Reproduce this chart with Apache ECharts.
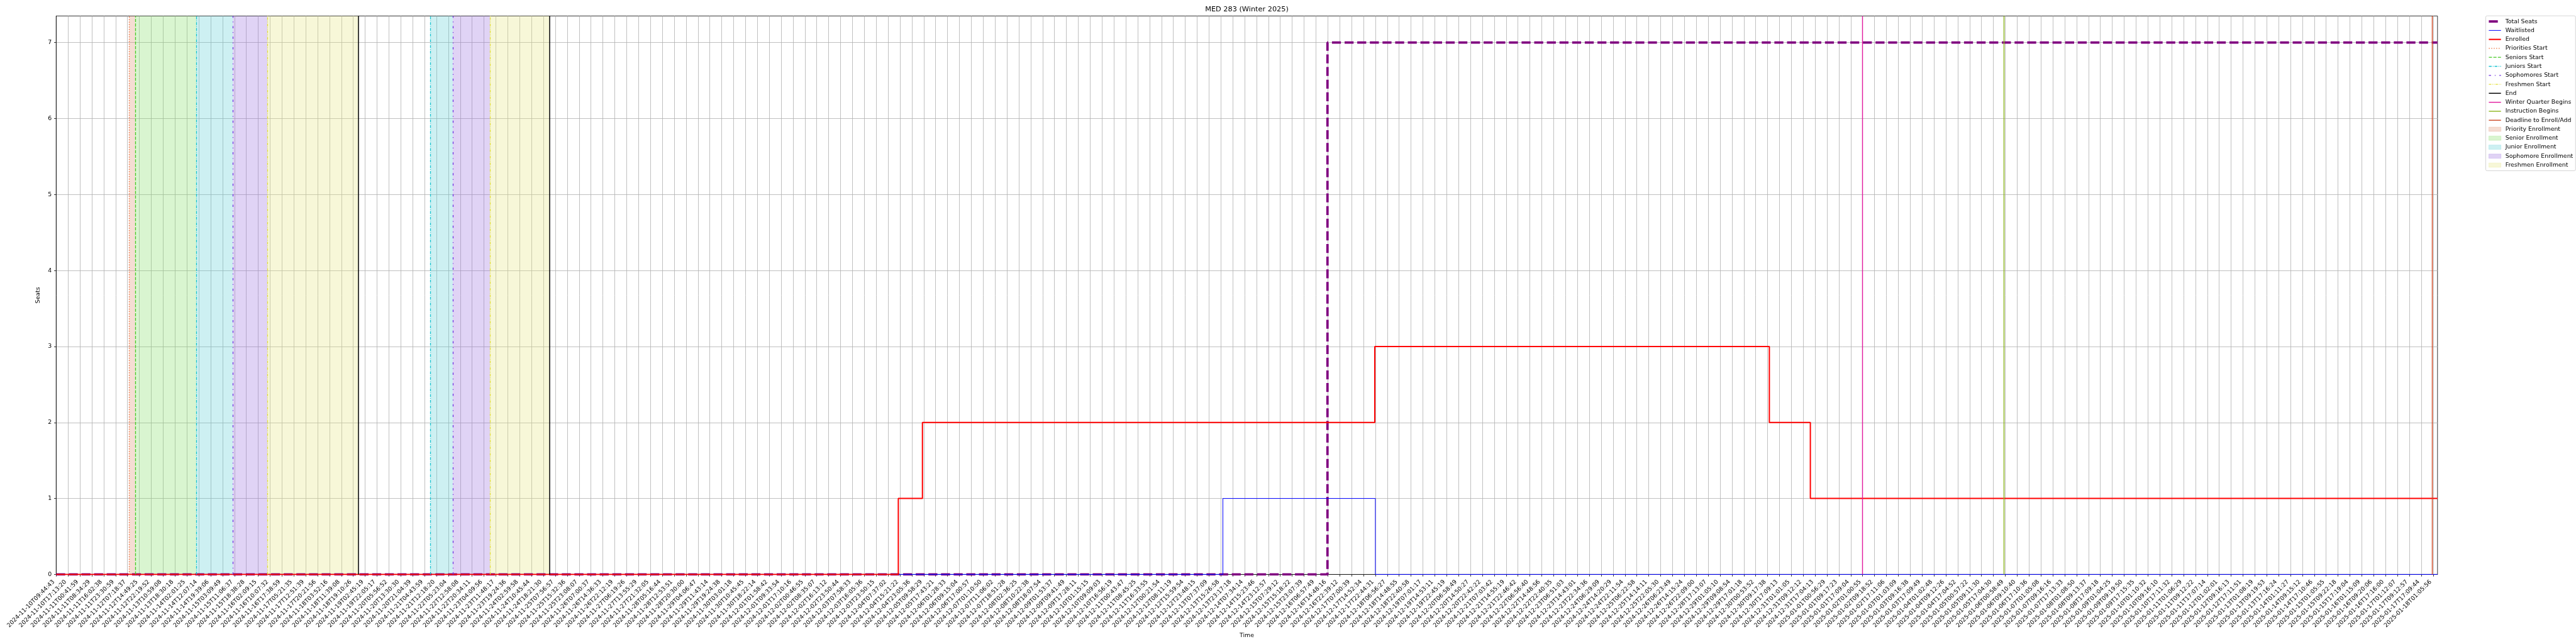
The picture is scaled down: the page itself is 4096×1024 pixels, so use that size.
<!DOCTYPE html>
<html><head><meta charset="utf-8">
<script src="https://cdn.jsdelivr.net/npm/echarts@6/dist/echarts.min.js"></script>
<style>html,body{margin:0;padding:0;background:#fff}#c{width:4096px;height:1024px}</style>
</head><body><div id="c"></div>
<script>
// ---------------- DATA ----------------
const tickLabels = [
'2024-11-10T09:44:43','2024-11-10T17:13:20','2024-11-11T00:41:59','2024-11-11T08:34:29','2024-11-11T16:02:38',
'2024-11-11T23:30:59','2024-11-12T07:18:37','2024-11-12T14:49:25','2024-11-12T22:19:52','2024-11-13T10:59:08',
'2024-11-13T18:30:18','2024-11-14T02:01:25','2024-11-14T12:07:14','2024-11-14T19:39:06','2024-11-15T03:09:49',
'2024-11-15T11:06:37','2024-11-15T18:38:28','2024-11-16T02:09:15','2024-11-16T10:07:32','2024-11-16T17:38:59',
'2024-11-17T05:21:35','2024-11-17T12:51:39','2024-11-17T20:21:56','2024-11-18T03:52:16','2024-11-18T11:39:08',
'2024-11-18T19:10:26','2024-11-19T02:45:19','2024-11-19T22:05:17','2024-11-20T05:56:52','2024-11-20T13:30:30',
'2024-11-20T21:04:39','2024-11-21T04:43:59','2024-11-21T12:18:20','2024-11-22T05:23:04','2024-11-22T12:58:08',
'2024-11-22T20:34:11','2024-11-23T04:09:56','2024-11-23T11:48:17','2024-11-23T19:24:36','2024-11-24T02:59:58',
'2024-11-24T10:45:44','2024-11-24T18:21:30','2024-11-25T07:56:57','2024-11-25T15:32:36','2024-11-25T23:08:07',
'2024-11-26T07:00:37','2024-11-26T14:36:33','2024-11-26T22:12:19','2024-11-27T06:19:26','2024-11-27T13:55:29',
'2024-11-27T21:32:05','2024-11-28T05:16:44','2024-11-28T12:53:51','2024-11-28T20:30:00','2024-11-29T04:06:47',
'2024-11-29T11:43:14','2024-11-29T19:24:38','2024-11-30T03:01:18','2024-11-30T10:45:45','2024-11-30T18:22:14',
'2024-12-01T01:58:42','2024-12-01T09:33:54','2024-12-01T17:10:16','2024-12-02T00:46:55','2024-12-02T08:35:07',
'2024-12-02T16:13:12','2024-12-02T23:50:44','2024-12-03T07:58:33','2024-12-03T16:05:36','2024-12-03T23:50:15',
'2024-12-04T07:37:02','2024-12-04T15:21:22','2024-12-04T23:05:36','2024-12-05T09:58:29','2024-12-05T17:43:21',
'2024-12-06T01:28:33','2024-12-06T09:15:04','2024-12-06T17:00:57','2024-12-07T01:10:50','2024-12-07T11:06:02',
'2024-12-07T18:51:28','2024-12-08T02:36:25','2024-12-08T10:22:38','2024-12-08T18:07:54','2024-12-09T01:53:37',
'2024-12-09T09:41:49','2024-12-09T17:28:11','2024-12-10T01:15:15','2024-12-10T09:09:03','2024-12-10T16:56:19',
'2024-12-11T00:43:47','2024-12-11T08:45:25','2024-12-11T16:33:55','2024-12-12T00:21:54','2024-12-12T08:11:19',
'2024-12-12T15:59:54','2024-12-12T23:48:15','2024-12-13T07:37:09','2024-12-13T15:26:58','2024-12-13T23:17:18',
'2024-12-14T07:34:14','2024-12-14T15:23:46','2024-12-14T23:12:57','2024-12-15T07:29:12','2024-12-15T15:18:22',
'2024-12-15T23:07:39','2024-12-16T06:57:49','2024-12-16T14:48:16','2024-12-16T22:39:12','2024-12-17T07:00:39',
'2024-12-17T14:52:34','2024-12-17T22:44:31','2024-12-18T06:56:27','2024-12-18T14:48:55','2024-12-18T22:40:58',
'2024-12-19T07:01:17','2024-12-19T14:53:11','2024-12-19T22:45:19','2024-12-20T06:58:49','2024-12-20T14:50:27',
'2024-12-20T22:42:22','2024-12-21T07:03:42','2024-12-21T14:55:19','2024-12-21T22:46:42','2024-12-22T06:56:40',
'2024-12-22T14:48:56','2024-12-22T22:40:35','2024-12-23T06:51:03','2024-12-23T14:43:01','2024-12-23T22:34:36',
'2024-12-24T06:29:09','2024-12-24T14:20:29','2024-12-24T22:11:54','2024-12-25T06:22:58','2024-12-25T14:14:11',
'2024-12-25T22:05:30','2024-12-26T06:23:49','2024-12-26T14:15:24','2024-12-26T22:09:00','2024-12-28T17:13:07',
'2024-12-29T01:05:10','2024-12-29T09:08:54','2024-12-29T17:01:18','2024-12-30T00:53:52','2024-12-30T09:17:38',
'2024-12-30T17:09:13','2024-12-31T01:01:05','2024-12-31T09:12:12','2024-12-31T17:04:13','2025-01-01T00:56:29',
'2025-01-01T09:17:23','2025-01-01T17:09:04','2025-01-02T01:00:55','2025-01-02T09:18:52','2025-01-02T17:11:06',
'2025-01-03T01:03:09','2025-01-03T09:16:38','2025-01-03T17:09:49','2025-01-04T01:02:48','2025-01-04T09:12:26',
'2025-01-04T17:04:52','2025-01-05T00:57:22','2025-01-05T09:11:30','2025-01-05T17:04:30','2025-01-06T00:58:49',
'2025-01-06T09:10:40','2025-01-06T17:10:36','2025-01-07T01:05:08','2025-01-07T09:16:16','2025-01-07T17:13:33',
'2025-01-08T01:08:50','2025-01-08T09:13:37','2025-01-08T17:09:18','2025-01-09T01:04:25','2025-01-09T09:19:50',
'2025-01-09T17:15:35','2025-01-10T01:10:32','2025-01-10T09:16:10','2025-01-10T17:11:32','2025-01-11T01:06:29',
'2025-01-11T09:12:22','2025-01-11T17:07:14','2025-01-12T01:02:01','2025-01-12T09:16:13','2025-01-12T17:11:51',
'2025-01-13T01:08:19','2025-01-13T09:19:53','2025-01-13T17:16:24','2025-01-14T01:11:27','2025-01-14T09:15:12',
'2025-01-14T17:10:46','2025-01-15T01:05:55','2025-01-15T09:22:18','2025-01-15T17:19:04','2025-01-16T01:15:09',
'2025-01-16T09:20:06','2025-01-16T17:16:00','2025-01-17T01:12:07','2025-01-17T09:12:57','2025-01-17T17:09:44',
'2025-01-18T01:05:56'
];
const xEnd = 200.37;               // last position on the time (tick-index) axis
const yTicks = [0, 1, 2, 3, 4, 5, 6, 7];
const yMax = 7.35;

// step series: [position, value] where value holds until the next change
const totalSeats = [[0, 0], [106.97, 7], [200.37, 7]];
const waitlisted = [[0, 0], [98.17, 1], [111.0, 0], [200.37, 0]];
const enrolled   = [[0, 0], [70.86, 1], [72.89, 2], [110.95, 3], [144.15, 2], [147.6, 1], [200.37, 1]];

// event markers (positions on the time axis)
const prioritiesStart = [6.146];
const seniorsStart    = [6.646];
const juniorsStart    = [11.786, 31.50];
const sophomoresStart = [14.864, 33.37];
const freshmenStart   = [17.78, 36.51];
const endMarks        = [25.43, 41.49];
const winterBegins    = [151.95];
const instructionBegins = [163.90];
const deadlineAdd     = [199.92];

// enrollment periods [start, end]
const priorityPeriods  = [[6.146, 6.646]];
const seniorPeriods    = [[6.646, 11.786]];
const juniorPeriods    = [[11.786, 14.864], [31.50, 33.37]];
const sophomorePeriods = [[14.864, 17.78], [33.37, 36.51]];
const freshmenPeriods  = [[17.78, 25.43], [36.51, 41.49]];

// ---------------- CHART ----------------
const FONT = 'DejaVu Sans';
const FS = 9.4;
const tickIdx = tickLabels.map((_, i) => i);

const eventDefs = [
  ['Priorities Start', prioritiesStart, '#ee6f3c', [1.5, 2.4], 1.3],
  ['Seniors Start', seniorsStart, '#44c922', [5, 2.2], 1.3],
  ['Juniors Start', juniorsStart, '#17c3d0', [4.5, 1.8, 1, 1.8], 1.3],
  ['Sophomores Start', sophomoresStart, '#7030e0', [3.5, 6, 1.2, 6], 1.3],
  ['Freshmen Start', freshmenStart, '#e3e03a', [4, 1.5, 1, 1.5, 1, 1.5], 1.3],
  ['End', endMarks, '#000000', 'solid', 1.5],
  ['Winter Quarter Begins', winterBegins, '#e0169c', 'solid', 1.4],
  ['Instruction Begins', instructionBegins, '#8bb51a', 'solid', 1.4],
  ['Deadline to Enroll/Add', deadlineAdd, '#cc4420', 'solid', 1.4]
];
const periodDefs = [
  ['Priority Enrollment', priorityPeriods, 'rgba(222,142,108,0.3)'],
  ['Senior Enrollment', seniorPeriods, 'rgba(128,222,98,0.3)'],
  ['Junior Enrollment', juniorPeriods, 'rgba(88,205,212,0.3)'],
  ['Sophomore Enrollment', sophomorePeriods, 'rgba(152,108,222,0.3)'],
  ['Freshmen Enrollment', freshmenPeriods, 'rgba(228,228,125,0.3)']
];
const dataDefs = [
  ['Total Seats', totalSeats, '#800080', [14.3, 5.8], 3.8],
  ['Waitlisted', waitlisted, '#0000ff', 'solid', 1],
  ['Enrolled', enrolled, '#ff0000', 'solid', 2]
];

const series = [];
periodDefs.forEach(([name, spans, fill]) => {
  series.push({
    name, type: 'line', data: [], z: 1, silent: true,
    itemStyle: { color: fill },
    markArea: {
      silent: true, itemStyle: { color: fill, borderWidth: 0 },
      data: spans.map(([a, b]) => [{ xAxis: a }, { xAxis: b }])
    }
  });
});
dataDefs.forEach(([name, pts, color, type, width]) => {
  series.push({
    name, type: 'line', step: 'end', data: pts, symbol: 'none', z: 3,
    itemStyle: { color }, lineStyle: { color, type, width }, clip: true
  });
});
eventDefs.forEach(([name, xs, color, type, width]) => {
  series.push({
    name, type: 'line', data: [], z: 4, silent: true,
    itemStyle: { color }, lineStyle: { color, type, width },
    markLine: {
      silent: true, symbol: ['none', 'none'], label: { show: false },
      lineStyle: { color, type, width },
      emphasis: { disabled: true },
      data: xs.map(v => ({ xAxis: v }))
    }
  });
});

const legendData = [];
dataDefs.concat(eventDefs.map(e => [e[0], null, e[2], e[3], e[4]])).forEach(([name, , color, type, width]) => {
  legendData.push({ name, itemStyle: { opacity: 0 }, lineStyle: { color, type, width } });
});
periodDefs.forEach(([name, , fill]) => {
  legendData.push({ name, icon: 'rect', itemStyle: { color: fill, borderColor: fill, borderWidth: 0.8 } });
});

const axisText = { fontFamily: FONT, fontSize: FS, color: '#000' };

const option = {
  animation: false,
  backgroundColor: '#ffffff',
  title: {
    text: 'MED 283 (Winter 2025)', left: 1982.5, top: 9.7, textAlign: 'center', padding: 0,
    textStyle: { fontFamily: FONT, fontSize: 11.3, fontWeight: 'normal', color: '#000', lineHeight: 11.3 }
  },
  grid: {
    left: 89.3, right: 4096 - 3875.8, top: 25.4, bottom: 1024 - 913.4,
    show: true, borderColor: '#000', borderWidth: 0.8, backgroundColor: 'transparent',
    outerBoundsMode: 'none'
  },
  legend: {
    orient: 'vertical', left: 3952.5, top: 25.2, padding: [3.4, 4, 3.4, 3],
    itemGap: 3.28, itemWidth: 19.3, itemHeight: 6.8,
    backgroundColor: '#fff', borderColor: '#cccccc', borderWidth: 0.8, borderRadius: 2,
    selectedMode: false,
    textStyle: { fontFamily: FONT, fontSize: FS, color: '#000', lineHeight: 11, padding: [0, 0, 0, 2] },
    data: legendData
  },
  xAxis: {
    type: 'value', min: 0, max: xEnd,
    name: 'Time', nameLocation: 'middle', nameGap: 88, nameTextStyle: axisText,
    axisLine: { show: true, onZero: false, lineStyle: { color: '#000', width: 0.8 } },
    axisTick: { show: true, length: 3.3, customValues: tickIdx, lineStyle: { color: '#000', width: 0.8 } },
    axisLabel: {
      customValues: tickIdx, rotate: 45, margin: 6.6, padding: [0, 5.5, 0, 0],
      fontFamily: FONT, fontSize: FS, color: '#000', hideOverlap: false,
      formatter: v => tickLabels[Math.round(v)] || ''
    },
    splitLine: { show: true, lineStyle: { color: '#b0b0b0', width: 0.8 } }
  },
  yAxis: {
    type: 'value', min: 0, max: yMax,
    name: 'Seats', nameLocation: 'middle', nameGap: 18, nameRotate: 90, nameTextStyle: axisText,
    axisLine: { show: true, onZero: false, lineStyle: { color: '#000', width: 0.8 } },
    axisTick: { show: true, length: 3.3, customValues: yTicks, lineStyle: { color: '#000', width: 0.8 } },
    axisLabel: { customValues: yTicks, margin: 7, fontFamily: FONT, fontSize: FS, color: '#000', formatter: v => String(Math.round(v)) },
    splitLine: { show: true, lineStyle: { color: '#b0b0b0', width: 0.8 } }
  },
  series
};

const chart = echarts.init(document.getElementById('c'), null, { renderer: 'canvas', width: 4096, height: 1024 });
chart.setOption(option);
</script>
</body></html>
